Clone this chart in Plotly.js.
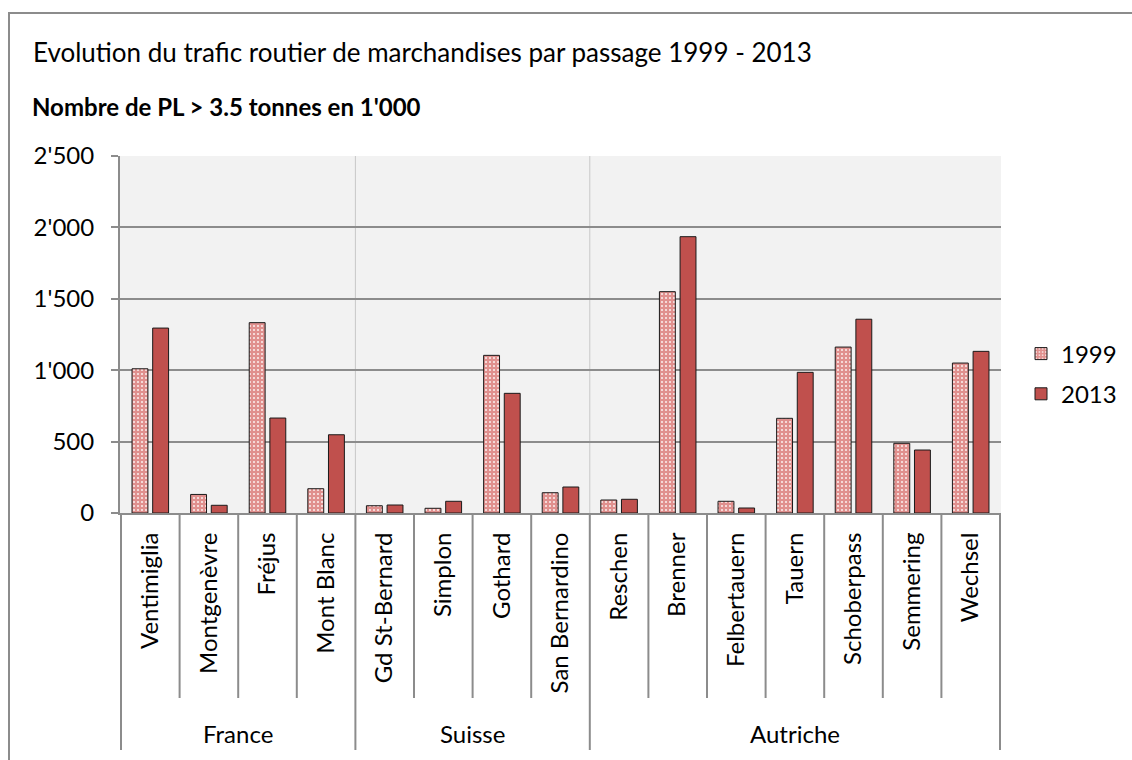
<!DOCTYPE html>
<html>
<head>
<meta charset="utf-8">
<script src="https://cdn.plot.ly/plotly-3.0.1.min.js"></script>
<style>
  html, body { margin: 0; padding: 0; overflow: hidden; background: #ffffff; }
  #frame { position: absolute; left: 8px; top: 12px; width: 1200px; height: 800px; border: 2px solid #8c8c8c; box-sizing: border-box; }
  #chart { position: absolute; left: 0; top: 0; width: 1132px; height: 760px; }
</style>
</head>
<body>
<div id="frame"></div>
<div id="chart"></div>
<script>
// ---- data ----
const categories = ["Ventimiglia", "Montgenèvre", "Fréjus", "Mont Blanc",
  "Gd St-Bernard", "Simplon", "Gothard", "San Bernardino",
  "Reschen", "Brenner", "Felbertauern", "Tauern", "Schoberpass", "Semmering", "Wechsel"];
const groups = ["France", "France", "France", "France",
  "Suisse", "Suisse", "Suisse", "Suisse",
  "Autriche", "Autriche", "Autriche", "Autriche", "Autriche", "Autriche", "Autriche"];
const values1999 = [1010, 130, 1333, 170, 51, 33, 1104, 142, 91, 1550, 82, 663, 1162, 488, 1050];
const values2013 = [1295, 54, 665, 548, 56, 82, 838, 182, 96, 1935, 35, 985, 1357, 441, 1132];
const seriesNames = ["1999", "2013"];
const chartTitle = "Evolution du trafic routier de marchandises par passage 1999 - 2013";
const chartSubtitle = "<b>Nombre de PL > 3.5 tonnes en 1'000</b>";

// ---- layout geometry (pixels) ----
const W = 1132, H = 760;
const M = { l: 120, r: 131, t: 156, b: 247 };
const plotW = W - M.l - M.r, plotH = H - M.t - M.b;
const px2x = px => (px - M.l) / plotW;
const py2y = py => (H - M.b - py) / plotH;

const FONT = 'Lato, "Open Sans", sans-serif';
const GRID = '#8c8c8c';

const traces = [
  {
    type: 'bar', name: seriesNames[0], x: categories, y: values1999,
    legendgroup: 'a',
    marker: {
      color: '#e29a98',
      line: { color: '#1a1a1a', width: 1 },
      pattern: { shape: '.', bgcolor: '#e0908e', fgcolor: '#fdf0f0', size: 4, solidity: 0.2 }
    },
    hoverinfo: 'x+y'
  },
  {
    type: 'bar', name: seriesNames[1], x: categories, y: values2013,
    legendgroup: 'b',
    marker: { color: '#c0504d', line: { color: '#1a1a1a', width: 1 } },
    hoverinfo: 'x+y'
  }
];

// group boundaries computed from the groups array
const shapes = [];
const annotations = [];
const groupList = [];
groups.forEach((g, i) => {
  if (!groupList.length || groupList[groupList.length - 1].name !== g) {
    groupList.push({ name: g, start: i, end: i });
  } else {
    groupList[groupList.length - 1].end = i;
  }
});
const innerBottom = py2y(698);
const outerBottom = py2y(750);

for (let i = 1; i < categories.length; i++) {
  const isGroupEdge = groups[i] !== groups[i - 1];
  if (!isGroupEdge) {
    shapes.push({ type: 'line', xref: 'x', yref: 'paper', x0: i - 0.5, x1: i - 0.5, y0: 0, y1: innerBottom,
      line: { color: GRID, width: 2 } });
  }
}
groupList.forEach((g, gi) => {
  const edges = [g.start - 0.5];
  if (gi === groupList.length - 1) edges.push(g.end + 0.5);
  edges.forEach(e => {
    const interior = e > -0.5 && e < categories.length - 0.5;
    if (interior) {
      shapes.push({ type: 'line', xref: 'x', yref: 'paper', x0: e, x1: e, y0: 0, y1: 1, layer: 'below',
        line: { color: '#c8c8c8', width: 1 } });
    }
    shapes.push({ type: 'line', xref: 'x', yref: 'paper', x0: e, x1: e, y0: 0, y1: outerBottom,
      line: { color: GRID, width: 2 } });
  });
  annotations.push({
    xref: 'x', yref: 'paper', x: (g.start + g.end) / 2, y: py2y(733),
    text: g.name, showarrow: false, xanchor: 'center', yanchor: 'middle',
    font: { family: FONT, size: 24, color: '#000000' }
  });
});

annotations.push({
  xref: 'paper', yref: 'paper', x: px2x(30), y: py2y(106), xanchor: 'left', yanchor: 'middle',
  text: chartSubtitle, showarrow: false, font: { family: FONT, size: 24, color: '#000000' }
});

const layout = {
  width: W, height: H,
  margin: M,
  paper_bgcolor: 'rgba(0,0,0,0)',
  plot_bgcolor: '#f2f2f2',
  separators: ".'",
  font: { family: FONT, size: 24, color: '#000000' },
  title: {
    text: chartTitle,
    xref: 'container', yref: 'container',
    x: 33 / W, xanchor: 'left', y: 1 - 53 / H, yanchor: 'middle',
    font: { family: FONT, size: 26, color: '#000000' }
  },
  barmode: 'group',
  bargap: 0.295,
  bargroupgap: 0.23,
  showlegend: true,
  legend: {
    xref: 'container', yref: 'container',
    x: 1021 / W, xanchor: 'left', y: 1 - 374 / H, yanchor: 'middle',
    bgcolor: 'rgba(0,0,0,0)', font: { family: FONT, size: 24, color: '#000000' },
    traceorder: 'grouped', tracegroupgap: 6
  },
  xaxis: {
    type: 'category',
    tickangle: -90,
    ticks: '',
    showgrid: false,
    showline: true, linecolor: GRID, linewidth: 2,
    ticklabelstandoff: 8,
    tickfont: { family: FONT, size: 24, color: '#000000' },
    fixedrange: true
  },
  yaxis: {
    range: [0, 2500], dtick: 500, tick0: 0,
    tickformat: ',d',
    showgrid: true, gridcolor: GRID, gridwidth: 2,
    zeroline: false,
    showline: true, linecolor: GRID, linewidth: 2,
    ticks: 'outside', ticklen: 7, tickwidth: 2, tickcolor: GRID,
    ticklabelstandoff: 12,
    tickfont: { family: FONT, size: 24, color: '#000000' },
    fixedrange: true
  },
  shapes: shapes,
  annotations: annotations
};

Plotly.newPlot('chart', traces, layout, { displayModeBar: false, staticPlot: true });
</script>
</body>
</html>
